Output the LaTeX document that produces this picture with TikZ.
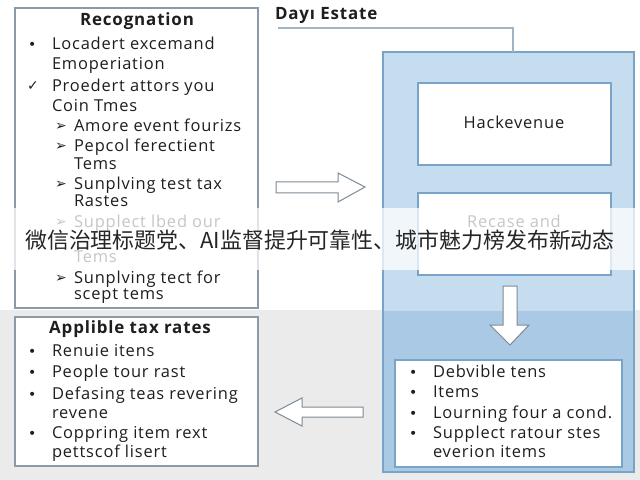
\documentclass[tikz,border=0pt]{standalone}
\usepackage{fontspec}
\setmainfont{Open Sans}[LetterSpace=5]
\newfontfamily\symfont{DejaVu Sans}
\newfontfamily\cjk{Noto Sans CJK SC}
\definecolor{txt}{HTML}{1E1E1E}
\definecolor{boxline}{HTML}{8A9AA8}
\definecolor{bluefill}{HTML}{C6DCEF}
\definecolor{bluedark}{HTML}{AAC9E4}
\definecolor{blueline}{HTML}{7AA3C8}
\definecolor{graybg}{HTML}{EBEBEB}
\definecolor{arrowline}{HTML}{7D8A96}
\begin{document}
\begin{tikzpicture}[x=1bp,y=-1bp,
  every node/.style={inner sep=0pt,outer sep=0pt,text=txt},
  listbox/.style={draw=boxline,line width=1.2bp,fill=white},
  innerbox/.style={draw=blueline,line width=1.2bp,fill=white},
  ln/.style={anchor=base west,font=\fontsize{16.5}{18}\selectfont},
  ttl/.style={anchor=base,font=\fontsize{17}{18}\selectfont\bfseries},
  sym/.style={anchor=base west,font=\fontsize{14}{14}\symfont},
  bigarrow/.style={draw=arrowline,line width=1bp,fill=white,line join=miter}]
\useasboundingbox (0,0) rectangle (640,480);
\fill[white] (0,0) rectangle (640,480);
\fill[graybg] (0,310) rectangle (640,480);
% big blue box
\fill[bluefill] (383,52) rectangle (634,311);
\fill[bluedark] (383,311) rectangle (634,472);
\draw[blueline,line width=1.2bp] (383,52) rectangle (634,472);
\coordinate (bluetop) at (513,52);
% Dayi Estate
\node[ttl,anchor=base west] (dayi) at (275,20) {Day\i\ Estate};
\coordinate (dline) at (278,28);
\draw[blueline!80!black!60,line width=1.2bp] (dline) -| (bluetop);
% left top box
\draw[listbox] (15,8) rectangle (258,308);
\node[ttl] (t1) at (137,26) {Recognation};
\node[sym] (b1) at (28,50) {•};
\node[ln] (l1) at (52,50) {Locadert excemand};
\node[ln] (l2) at (52,70) {Emoperiation};
\node[sym] (b2) at (27,91) {✓};
\node[ln] (l3) at (52,92) {Proedert attors you};
\node[ln] (l4) at (52,112) {Coin Tmes};
\node[sym] (a1) at (55,131) {➢};
\node[ln] (l5) at (74,132) {Amore event fourizs};
\node[sym] (a2) at (55,151) {➢};
\node[ln] (l6) at (74,152) {Pepcol ferectient};
\node[ln] (l7) at (74,170) {Tems};
\node[sym] (a3) at (55,189) {➢};
\node[ln] (l8) at (74,190) {Sunplving test tax};
\node[ln] (l9) at (74,207) {Rastes};
\node[sym] (a4) at (55,227) {➢};
\node[ln] (l10) at (74,228) {Supplect lbed our};
\node[ln] (l11) at (74,262) {Tems};
\node[sym] (a5) at (55,282) {➢};
\node[ln] (l12) at (74,283) {Sunplving tect for};
\node[ln] (l13) at (74,299) {scept tems};
% bottom left box
\draw[listbox] (15,317) rectangle (258,466);
\node[ttl] (t2) at (130,333) {Applible tax rates};
\foreach \yy in {356,377,399,438}{\node[sym] at (28,\yy) {•};}
\node[ln] (m1) at (52,356) {Renuie itens};
\node[ln] (m2) at (52,377) {People tour rast};
\node[ln] (m3) at (52,399) {Defasing teas revering};
\node[ln] (m4) at (52,418) {revene};
\node[ln] (m5) at (52,438) {Coppring item rext};
\node[ln] (m6) at (52,457) {pettscof lisert};
% inner boxes
\node[innerbox,minimum width=193bp,minimum height=82bp,anchor=north west] (hack) at (418,83) {};
\node[anchor=base,font=\fontsize{16.5}{18}\selectfont] at (514,129) {Hackevenue};
\node[innerbox,minimum width=193bp,minimum height=82bp,anchor=north west] (recase) at (418,193) {};
\node[anchor=base,font=\fontsize{16.5}{18}\selectfont] at (514,228) {Recase and};
\node[innerbox,minimum width=227bp,minimum height=107bp,anchor=north west] (deb) at (395,360) {};
\foreach \yy in {377,397,418,438}{\node[sym] at (409,\yy) {•};}
\node[ln] (r1) at (433,377) {Debvible tens};
\node[ln] (r2) at (433,397) {Items};
\node[ln] (r3) at (433,418) {Lourning four a cond.};
\node[ln] (r4) at (433,438) {Supplect ratour stes};
\node[ln] (r5) at (433,457) {everion items};
% arrows
\draw[bigarrow] (276,182) -- (338,182) -- (338,173) -- (365,187) -- (338,202) -- (338,193) -- (276,193) -- cycle;
\draw[bigarrow] (503,286) -- (517,286) -- (517,325) -- (529,325) -- (510,345) -- (490,325) -- (503,325) -- cycle;
\draw[bigarrow] (363,407) -- (302,407) -- (302,398) -- (275,412) -- (302,426) -- (302,417) -- (363,417) -- cycle;
% overlay band
\fill[white,opacity=0.75] (0,208) rectangle (640,270);
\node[anchor=base,font=\fontsize{22}{24}\cjk,text=black!85] (band) at (320,249) {微信治理标题党、AI监督提升可靠性、城市魅力榜发布新动态};
\end{tikzpicture}
\end{document}
